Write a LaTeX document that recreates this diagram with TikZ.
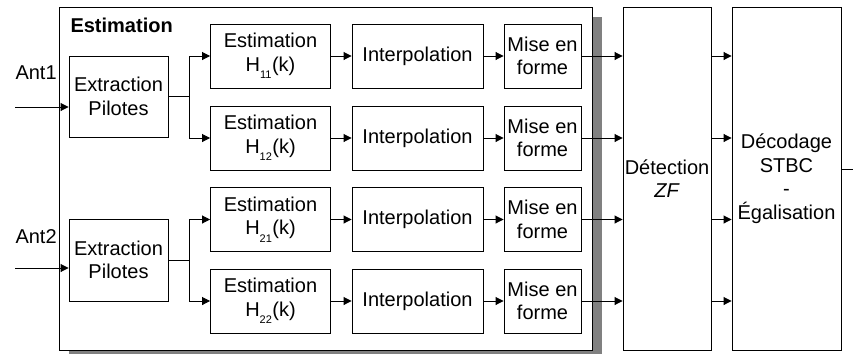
\documentclass[tikz,border=0pt]{standalone}
\usepackage{fontspec}
\setmainfont{Liberation Sans}
\usetikzlibrary{arrows.meta}
\tikzset{
  blk/.style={draw=black, line width=0.9pt, fill=white, inner sep=0pt, align=center,
    font=\fontsize{20}{23.5}\selectfont},
  arr/.style={line width=0.9pt, -{Triangle[length=8pt,width=8pt]}},
  ln/.style={line width=0.9pt},
}
\newcommand{\Hsub}[1]{H\textsubscript{\raisebox{-0.55ex}{\fontsize{11}{11}\selectfont #1}}(k)}
\begin{document}
\begin{tikzpicture}[x=1pt,y=-1pt]
\useasboundingbox (0,0) rectangle (853,354);
% estimation frame with shadow
\fill[black!50] (69,17) rectangle (602,354);
\node[draw=black, line width=0.9pt, fill=white, minimum width=533pt, minimum height=343pt, inner sep=0pt] (frame) at (325.5,178.5) {};
\node[anchor=base west, font=\fontsize{20}{24}\selectfont\bfseries] (title) at (67,32) {Estimation};
% inputs
\node[anchor=base west, font=\fontsize{20}{24}\selectfont] (ant1) at (12,79) {Ant1};
\node[anchor=base west, font=\fontsize{20}{24}\selectfont] (ant2) at (12,243) {Ant2};
\node[blk, minimum width=99pt, minimum height=81pt] (ext1) at (118.5,96.5) {Extraction\\Pilotes};
\node[blk, minimum width=99pt, minimum height=82pt] (ext2) at (118.5,260) {Extraction\\Pilotes};
\coordinate (in1) at (15,107);
\coordinate (in2) at (15,268);
\draw[arr] (in1) -- (in1 -| ext1.west);
\draw[arr] (in2) -- (in2 -| ext2.west);
% rows
\foreach \n/\y/\s in {a/56/11, b/138/12, c/219.5/21, d/301/22}{
  \node[blk, minimum width=120pt, minimum height=64pt] (est\n) at (270.5,\y) {Estimation\\\Hsub{\s}};
  \node[blk, minimum width=131pt, minimum height=64pt] (int\n) at (417.5,\y) {Interpolation};
  \node[blk, minimum width=77pt, minimum height=64pt] (mis\n) at (542.5,\y) {Mise en\\forme};
  \draw[arr] (est\n) -- (int\n);
  \draw[arr] (int\n) -- (mis\n);
}
\draw[arr] (ext1.east) -- ++(21,0) |- (esta.west);
\draw[arr] (ext1.east) -- ++(21,0) |- (estb.west);
\draw[arr] (ext2.east) -- ++(21,0) |- (estc.west);
\draw[arr] (ext2.east) -- ++(21,0) |- (estd.west);
% detection and decoding
\node[blk, minimum width=88pt, minimum height=343pt] (det) at (667,178.5) {D\'etection\\\textit{ZF}};
\node[blk, minimum width=109pt, minimum height=343pt] (dec) at (786.5,178.5) {D\'ecodage\\STBC\\-\\\'Egalisation};
\foreach \n in {a,b,c,d}{
  \draw[arr] (mis\n.east) -- (mis\n.east -| det.west);
  \draw[arr] (mis\n.east -| det.east) -- (mis\n.east -| dec.west);
}
\coordinate (out) at (853,169);
\draw[ln] (out -| dec.east) -- (out);
\end{tikzpicture}
\end{document}
